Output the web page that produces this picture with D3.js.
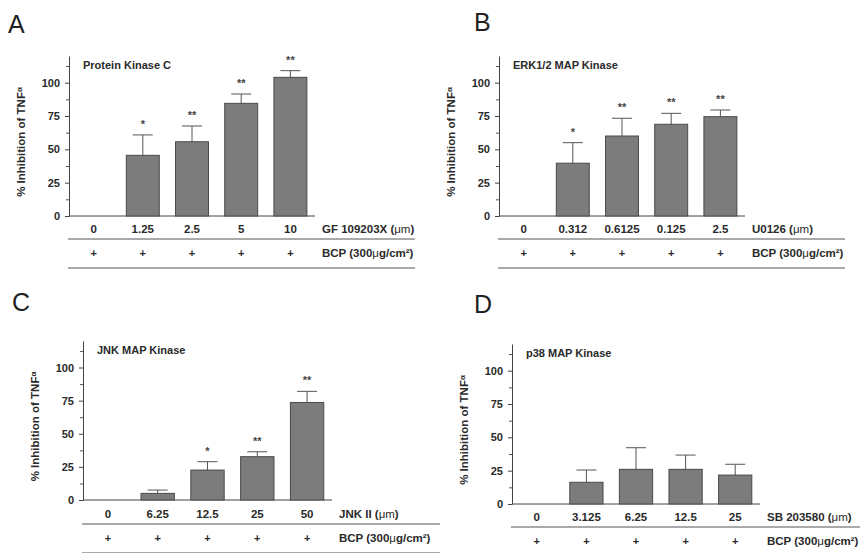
<!DOCTYPE html>
<html>
<head>
<meta charset="utf-8">
<script src="https://cdn.jsdelivr.net/npm/d3@7"></script>
<style>
  body { margin: 0; background: #fff; }
  svg { font-family: "Liberation Sans", Arial, sans-serif; }
  .tick text { font-weight: bold; font-size: 11px; fill: #2a2a2a; }
</style>
</head>
<body>
<svg id="chart" width="860" height="553"></svg>
<script>
// data
var catsA = ["0", "1.25", "2.5", "5", "10"];
var valsA = [0, 45.5, 55.7, 84.5, 104];
var errA = [0, 15.3, 11.8, 7, 5];
var starsA = ["", "*", "**", "**", "**"];

var catsB = ["0", "0.312", "0.6125", "0.125", "2.5"];
var valsB = [0, 39.6, 60, 68.8, 74.5];
var errB = [0, 15.4, 13.3, 8.2, 5];
var starsB = ["", "*", "**", "**", "**"];

var catsC = ["0", "6.25", "12.5", "25", "50"];
var valsC = [0, 5, 22.6, 32.7, 73.6];
var errC = [0, 2.5, 6.3, 3.7, 8.4];
var starsC = ["", "", "*", "**", "**"];

var catsD = ["0", "3.125", "6.25", "12.5", "25"];
var valsD = [0, 16.3, 26, 26, 21.7];
var errD = [0, 9.2, 16.2, 10.7, 8.1];
var starsD = ["", "", "", "", ""];

var yTicks = [0, 25, 50, 75, 100];
var bcpRow = ["+", "+", "+", "+", "+"];

var svg = d3.select("#chart");
var ink = "#2a2a2a";

function drawPanel(p) {
  var g = svg.append("g");

  var x = d3.scaleBand().domain(d3.range(p.cats.length))
    .range([p.x0, p.x1]).paddingInner(0.33).paddingOuter(0.165);
  var y = d3.scaleLinear().domain([0, 120]).range([p.zero, p.top]);

  var rows = p.vals.map(function(v, i){
    return {i: i, v: v, e: p.err[i], s: p.stars[i]};
  });
  var cx = function(d){ return x(d.i) + x.bandwidth() / 2; };

  // minor ticks
  g.append("g")
    .attr("transform", "translate(" + p.x0 + ",0)")
    .call(d3.axisLeft(y).tickValues([12.5, 37.5, 62.5, 87.5, 112.5]).tickSize(3).tickFormat(""))
    .call(function(a){ a.select(".domain").remove(); a.selectAll("line").attr("stroke", "#555"); });

  var yAxis = g.append("g")
    .attr("transform", "translate(" + p.x0 + ",0)")
    .call(d3.axisLeft(y).tickValues(yTicks).tickSize(4).tickPadding(5).tickSizeOuter(0));
  yAxis.select(".domain").attr("stroke", "#444");
  yAxis.selectAll("line").attr("stroke", "#444");

  // x baseline
  g.append("line")
    .attr("x1", p.x0).attr("x2", p.x1)
    .attr("y1", y(0)).attr("y2", y(0))
    .attr("stroke", "#444");

  g.append("text")
    .attr("transform", "translate(" + (p.x0 - 44) + "," + ((p.zero + p.top) / 2 + 6) + ")rotate(-90)")
    .attr("text-anchor", "middle")
    .attr("font-weight", "bold").attr("font-size", 11.5).attr("fill", ink)
    .text("% Inhibition of TNF")
    .append("tspan").attr("font-size", 8).attr("dy", -3).text("α");

  g.append("text")
    .attr("x", p.x0 + 14).attr("y", p.top + 13)
    .attr("font-weight", "bold").attr("font-size", 11).attr("fill", ink)
    .text(p.title);

  g.append("text")
    .attr("x", p.lx).attr("y", p.ly)
    .attr("font-size", 25).attr("fill", "#222")
    .text(p.letter);

  var bars = g.selectAll(".bar").data(rows.filter(function(d){ return d.v > 0; })).enter()
    .append("g").attr("class", "bar");

  bars.append("line")
    .attr("x1", cx).attr("x2", cx)
    .attr("y1", function(d){ return y(d.v); })
    .attr("y2", function(d){ return y(d.v + d.e); })
    .attr("stroke", "#555");

  bars.append("line")
    .attr("x1", function(d){ return cx(d) - 10; })
    .attr("x2", function(d){ return cx(d) + 10; })
    .attr("y1", function(d){ return y(d.v + d.e); })
    .attr("y2", function(d){ return y(d.v + d.e); })
    .attr("stroke", "#555");

  bars.append("rect")
    .attr("x", function(d){ return x(d.i); })
    .attr("y", function(d){ return y(d.v); })
    .attr("width", x.bandwidth())
    .attr("height", function(d){ return y(0) - y(d.v); })
    .attr("fill", "#7c7c7c")
    .attr("stroke", "#4a4a4a");

  bars.append("text")
    .attr("x", cx)
    .attr("y", function(d){ return y(d.v + d.e) - 7; })
    .attr("text-anchor", "middle")
    .attr("font-weight", "bold").attr("font-size", 11).attr("fill", "#444")
    .text(function(d){ return d.s; });

  // treatment rows
  g.selectAll(".cat").data(rows).enter().append("text")
    .attr("x", cx)
    .attr("y", p.row1)
    .attr("text-anchor", "middle")
    .attr("font-weight", "bold").attr("font-size", 11.5).attr("fill", ink)
    .text(function(d){ return p.cats[d.i]; });

  g.selectAll(".plus").data(rows).enter().append("text")
    .attr("x", cx)
    .attr("y", p.row1 + 24)
    .attr("text-anchor", "middle")
    .attr("font-weight", "bold").attr("font-size", 11).attr("fill", ink)
    .text(function(d){ return bcpRow[d.i]; });

  var t1 = g.append("text").attr("x", p.x1 + 7).attr("y", p.row1)
    .attr("font-weight", "bold").attr("font-size", 11.5).attr("fill", ink)
    .text(p.drug + " (");
  t1.append("tspan").attr("font-weight", "normal").text("μm");
  t1.append("tspan").text(")");

  var t2 = g.append("text").attr("x", p.x1 + 7).attr("y", p.row1 + 24)
    .attr("font-weight", "bold").attr("font-size", 11.5).attr("fill", ink)
    .text("BCP (300");
  t2.append("tspan").attr("font-weight", "normal").text("μ");
  t2.append("tspan").text("g/cm²)");

  [p.row1 + 6, p.row1 + 35].forEach(function(ly){
    g.append("line")
      .attr("x1", p.x0 - 1).attr("x2", p.lineEnd)
      .attr("y1", ly).attr("y2", ly)
      .attr("stroke", "#555");
  });
}

drawPanel({letter: "A", lx: 8, ly: 33, title: "Protein Kinase C", drug: "GF 109203X",
  cats: catsA, vals: valsA, err: errA, stars: starsA,
  x0: 69, x1: 315, zero: 216, top: 56, row1: 233, lineEnd: 415});
drawPanel({letter: "B", lx: 474, ly: 31, title: "ERK1/2 MAP Kinase", drug: "U0126",
  cats: catsB, vals: valsB, err: errB, stars: starsB,
  x0: 499, x1: 745, zero: 216, top: 56, row1: 233, lineEnd: 845});
drawPanel({letter: "C", lx: 12, ly: 311, title: "JNK MAP Kinase", drug: "JNK II",
  cats: catsC, vals: valsC, err: errC, stars: starsC,
  x0: 83, x1: 332, zero: 500, top: 341, row1: 518, lineEnd: 440});
drawPanel({letter: "D", lx: 474, ly: 313, title: "p38 MAP Kinase", drug: "SB 203580",
  cats: catsD, vals: valsD, err: errD, stars: starsD,
  x0: 512, x1: 760, zero: 504, top: 344, row1: 521, lineEnd: 860});
</script>
</body>
</html>
